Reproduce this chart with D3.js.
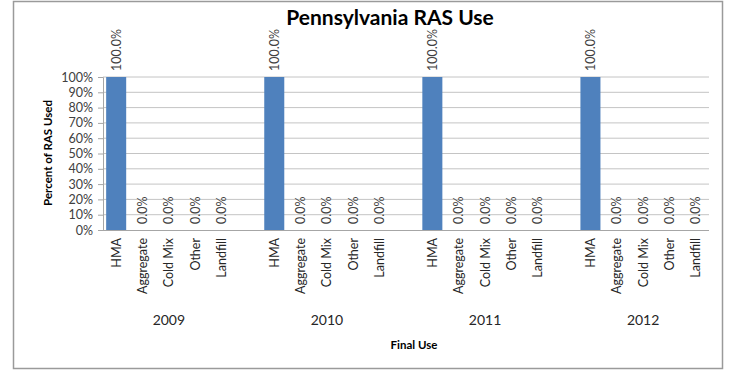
<!DOCTYPE html>
<html>
<head>
<meta charset="utf-8">
<script src="https://cdn.jsdelivr.net/npm/d3@7"></script>
<style>
        body { margin: 0; background: #ffffff; }
        svg { display: block; }
</style>
</head>
<body>
<svg id="chart" width="730" height="370"></svg>
<script>
// Pennsylvania RAS use by final use, per year

const years = ["2009", "2010", "2011", "2012"];
const uses = ["HMA", "Aggregate", "Cold Mix", "Other", "Landfill"];
const share2009 = [1.0, 0.0, 0.0, 0.0, 0.0];
const share2010 = [1.0, 0.0, 0.0, 0.0, 0.0];
const share2011 = [1.0, 0.0, 0.0, 0.0, 0.0];
const share2012 = [1.0, 0.0, 0.0, 0.0, 0.0];
const yTicks = [0, 0.1, 0.2, 0.3, 0.4, 0.5, 0.6, 0.7, 0.8, 0.9, 1.0];

const shares = [share2009, share2010, share2011, share2012];
const font = "Lato, 'Open Sans', sans-serif";

const svg = d3.select("#chart");

// chart frame
svg.append("rect")
        .attr("x", 13.5).attr("y", 1.5)
        .attr("width", 709).attr("height", 367)
        .attr("fill", "#ffffff")
        .style("stroke", "#9a9a9a")
        .style("stroke-width", 1.5);

// one slot per bar, with an empty slot between years
const slots = [];
years.forEach((yr, i) => {
        uses.forEach(u => slots.push(yr + "|" + u));
        if (i < years.length - 1) slots.push("gap" + i);
});

const rows = [];
years.forEach((yr, i) => {
        uses.forEach((u, j) => rows.push({ year: yr, use: u, key: yr + "|" + u, value: shares[i][j] }));
});

const x = d3.scaleBand()
        .domain(slots)
        .range([103, 709])
        .paddingInner(0.24)
        .paddingOuter(0.12);

const y = d3.scaleLinear()
        .domain([0, 1])
        .range([230, 77]);

// gridlines
svg.append("g")
        .selectAll("line")
        .data(yTicks.slice(1))
        .join("line")
        .attr("x1", 103).attr("x2", 709)
        .attr("y1", d => y(d)).attr("y2", d => y(d))
        .style("stroke", "#c4c4c4")
        .style("stroke-width", 1);

// y axis
const yAxis = svg.append("g")
        .attr("transform", "translate(103,0)")
        .call(d3.axisLeft(y).tickValues(yTicks).tickFormat(d3.format(".0%")).tickSize(5).tickPadding(5));
yAxis.select(".domain").style("stroke", "#a6a6a6");
yAxis.selectAll(".tick line").style("stroke", "#a6a6a6");
yAxis.selectAll(".tick text")
        .attr("font-family", font)
        .attr("font-size", "12.5px")
        .attr("fill", "#404040");

// x axis base line
svg.append("line")
        .attr("x1", 103).attr("x2", 709)
        .attr("y1", y(0) + 0.5).attr("y2", y(0) + 0.5)
        .style("stroke", "#a6a6a6");

// bars
svg.append("g")
        .selectAll("rect")
        .data(rows)
        .join("rect")
        .attr("x", d => x(d.key))
        .attr("y", d => y(d.value))
        .attr("width", x.bandwidth())
        .attr("height", d => y(0) - y(d.value))
        .attr("fill", "#4f81bd");

// value labels
svg.append("g")
        .selectAll("text")
        .data(rows)
        .join("text")
        .attr("transform", d => "translate(" + (x(d.key) + x.bandwidth() / 2 + 4.5) + "," + (y(d.value) - 6) + ") rotate(-90)")
        .text(d => d3.format(".1%")(d.value))
        .attr("font-family", font)
        .attr("font-size", "12.5px")
        .attr("fill", "#404040");

// category labels
svg.append("g")
        .selectAll("text")
        .data(rows)
        .join("text")
        .attr("transform", d => "translate(" + (x(d.key) + x.bandwidth() / 2 + 4.5) + "," + 238 + ") rotate(-90)")
        .attr("text-anchor", "end")
        .text(d => d.use)
        .attr("font-family", font)
        .attr("font-size", "12.5px")
        .attr("fill", "#262626");

// year labels
svg.append("g")
        .selectAll("text")
        .data(years)
        .join("text")
        .attr("x", yr => (x(yr + "|" + uses[0]) + x(yr + "|" + uses[uses.length - 1]) + x.bandwidth()) / 2)
        .attr("y", 325)
        .attr("text-anchor", "middle")
        .text(yr => yr)
        .attr("font-family", font)
        .attr("font-size", "14px")
        .attr("fill", "#262626");

// axis titles
svg.append("text")
        .attr("x", 414).attr("y", 349)
        .attr("text-anchor", "middle")
        .text("Final Use")
        .attr("font-family", font)
        .attr("font-weight", "bold")
        .attr("font-size", "11.5px")
        .attr("fill", "#000000");

svg.append("text")
        .attr("transform", "translate(52,153) rotate(-90)")
        .attr("text-anchor", "middle")
        .text("Percent of RAS Used")
        .attr("font-family", font)
        .attr("font-weight", "bold")
        .attr("font-size", "11.5px")
        .attr("fill", "#000000");

// title
svg.append("text")
        .attr("x", 390).attr("y", 25)
        .attr("text-anchor", "middle")
        .text("Pennsylvania RAS Use")
        .attr("font-family", font)
        .attr("font-weight", "bold")
        .attr("font-size", "21px")
        .attr("fill", "#000000");
</script>
</body>
</html>
